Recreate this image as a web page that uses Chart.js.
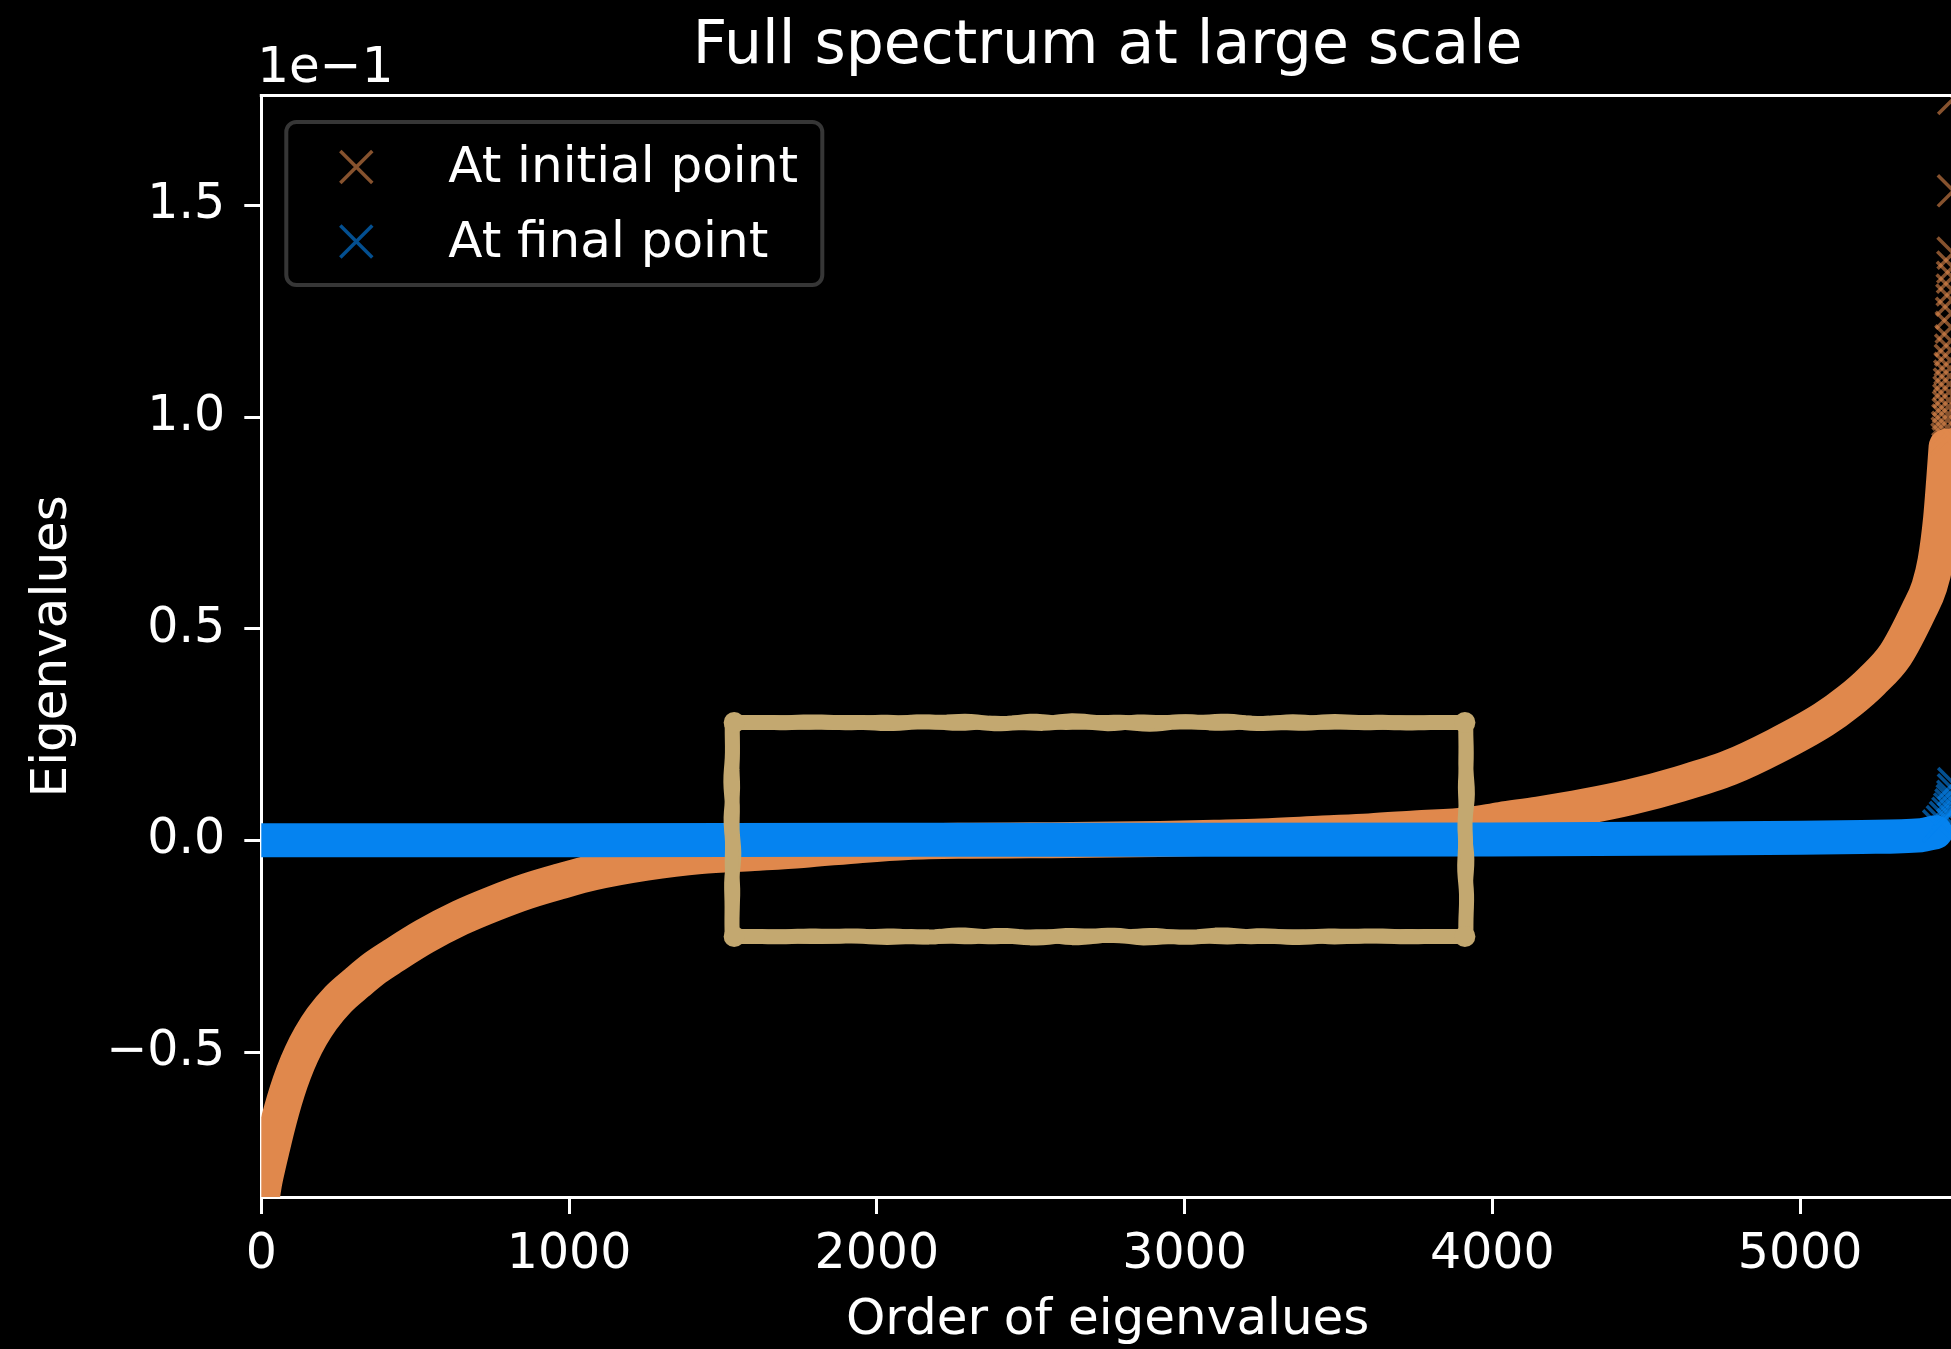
<!DOCTYPE html>
<html>
<head>
<meta charset="utf-8">
<title>Full spectrum at large scale</title>
<script src="https://cdn.jsdelivr.net/npm/chart.js@4.4.1/dist/chart.umd.min.js"></script>
<style>
  html, body { margin: 0; padding: 0; background: #000; overflow: hidden; }
  #wrap { width: 1960px; height: 1349px; }
</style>
</head>
<body>
<div id="wrap"><canvas id="chart" width="1960" height="1349"></canvas></div>
<script>
// Sorted Hessian eigenvalues (in units of 1e-1), indexed by their order.
// Bulk of the spectrum at the initial point.
const initialOrder = [0, 10, 22, 35, 50, 66, 84, 105, 131, 160, 197, 250, 311, 370, 428, 530,
  646, 760, 864, 970, 1078, 1250, 1427, 1600, 1758, 1950, 2100, 2300, 2500, 2700, 2919, 3100,
  3250, 3450, 3600, 3748, 3924, 4027, 4150, 4297, 4450, 4609, 4770, 4920, 5076, 5160, 5232,
  5310, 5387, 5420, 5440, 5458, 5468, 5476];
const initialEig = [-0.85, -0.805, -0.765, -0.725, -0.68, -0.636, -0.592, -0.548, -0.503,
  -0.462, -0.420, -0.374, -0.335, -0.300, -0.272, -0.226, -0.182, -0.147, -0.119, -0.096,
  -0.075, -0.052, -0.036, -0.029, -0.022, -0.010, -0.003, 0.0, 0.001, 0.002, 0.004, 0.007,
  0.010, 0.017, 0.022, 0.029, 0.037, 0.049, 0.062, 0.080, 0.103, 0.134, 0.172, 0.223, 0.286,
  0.33, 0.376, 0.439, 0.545, 0.60, 0.66, 0.76, 0.85, 0.93];
// Largest eigenvalues at the initial point (sparse outliers).
const initialTailOrder = [5477, 5478, 5479, 5480, 5481, 5482, 5483, 5484, 5485, 5486, 5487,
  5488, 5489, 5490, 5491, 5492, 5493, 5494, 5495, 5496, 5497, 5498, 5499];
const initialTailEig = [0.948, 0.962, 0.976, 0.993, 1.007, 1.024, 1.040, 1.059, 1.078, 1.097,
  1.115, 1.134, 1.158, 1.18, 1.212, 1.245, 1.276, 1.300, 1.330, 1.354, 1.387, 1.534, 1.752];

// Bulk of the spectrum at the final point.
const finalOrder = [0, 1000, 2000, 3000, 4000, 4677, 5003, 5200, 5393, 5440];
const finalEig = [0.001, 0.001, 0.002, 0.002, 0.003, 0.005, 0.007, 0.009, 0.013, 0.02];
// Largest eigenvalues at the final point.
const finalTailOrder = [5450, 5462, 5472, 5480, 5486, 5490, 5494, 5496, 5498, 5499];
const finalTailEig = [0.035, 0.045, 0.055, 0.065, 0.075, 0.085, 0.095, 0.105, 0.12, 0.135];

const seriesNames = ['At initial point', 'At final point'];
const xTicks = [0, 1000, 2000, 3000, 4000, 5000];
const yTicks = [-0.5, 0.0, 0.5, 1.0, 1.5];
const xRange = [0, 5500];
const yRange = [-0.841, 1.759];
const offsetLabel = '1e\u22121';

// Region of the flat part of the spectrum picked out by the hand-drawn box.
const highlightOrder = [1530, 3914];
const highlightEig = [-0.226, 0.279];

const FONT = 'DejaVu Sans';
const ORANGE = '224,136,76';
const BLUE = '5,131,240';
const TAN = '#c3a870';
const MARKER_ALPHA = 0.6;

Chart.defaults.font.family = FONT;
Chart.defaults.color = '#ffffff';

const toPoints = (xs, ys) => xs.map((x, i) => ({ x: x, y: ys[i] }));
const fmt = v => {
  const s = Number(v).toFixed(1);
  return s.startsWith('-') ? '\u2212' + s.slice(1) : s;
};

function strokeWobbly(ctx, x0, y0, x1, y1, phase, width) {
  const corners = [[x0, y0], [x1, y0], [x1, y1], [x0, y1]];
  ctx.beginPath();
  let first = true;
  for (let s = 0; s < 4; s++) {
    const a = corners[s], b = corners[(s + 1) % 4];
    const len = Math.hypot(b[0] - a[0], b[1] - a[1]);
    const n = Math.ceil(len / 6);
    const nx = -(b[1] - a[1]) / len, ny = (b[0] - a[0]) / len;
    for (let i = 0; i <= n; i++) {
      const t = i / n, u = t * len;
      const env = Math.sin(Math.PI * t);
      const d = env * (1.1 * Math.sin(u / 21 + phase + s) + 0.7 * Math.sin(u / 8.3 + 2.1 * phase + s));
      const px = a[0] + (b[0] - a[0]) * t + nx * d;
      const py = a[1] + (b[1] - a[1]) * t + ny * d;
      if (first) { ctx.moveTo(px, py); first = false; } else { ctx.lineTo(px, py); }
    }
  }
  ctx.closePath();
  ctx.lineWidth = width;
  ctx.lineJoin = 'round';
  ctx.stroke();
}

const decorations = {
  id: 'decorations',
  afterDatasetsDraw(chart) {
    const { ctx, scales: { x, y } } = chart;
    const x0 = x.getPixelForValue(highlightOrder[0]);
    const x1 = x.getPixelForValue(highlightOrder[1]);
    const y0 = y.getPixelForValue(highlightEig[1]);
    const y1 = y.getPixelForValue(highlightEig[0]);
    ctx.save();
    ctx.strokeStyle = TAN;
    ctx.fillStyle = TAN;
    strokeWobbly(ctx, x0, y0, x1, y1, 0.7, 15);
    strokeWobbly(ctx, x0, y0, x1, y1, 2.9, 14);
    [[x0 + 2, y0], [x1 - 1, y0], [x1 - 1, y1], [x0 + 2, y1]].forEach(([cx, cy]) => {
      ctx.beginPath();
      ctx.arc(cx, cy, 10.5, 0, Math.PI * 2);
      ctx.fill();
    });
    ctx.restore();
  },
  afterDraw(chart) {
    const { ctx, chartArea: ca } = chart;
    ctx.save();
    // top and right spines
    ctx.strokeStyle = '#ffffff';
    ctx.lineWidth = 3;
    ctx.beginPath();
    ctx.moveTo(ca.left - 1.5, ca.top);
    ctx.lineTo(ca.right, ca.top);
    ctx.lineTo(ca.right, ca.bottom);
    ctx.stroke();

    // axis offset label
    ctx.fillStyle = '#ffffff';
    ctx.font = '50px "' + FONT + '"';
    ctx.textAlign = 'left';
    ctx.textBaseline = 'alphabetic';
    ctx.fillText(offsetLabel, ca.left - 4, ca.top - 13.5);

    // legend frame
    const lx0 = ca.left + 25, ly0 = ca.top + 26.5, lx1 = ca.left + 561, ly1 = ca.top + 189.5, r = 10;
    ctx.beginPath();
    ctx.moveTo(lx0 + r, ly0);
    ctx.arcTo(lx1, ly0, lx1, ly1, r);
    ctx.arcTo(lx1, ly1, lx0, ly1, r);
    ctx.arcTo(lx0, ly1, lx0, ly0, r);
    ctx.arcTo(lx0, ly0, lx1, ly0, r);
    ctx.closePath();
    ctx.fillStyle = '#000000';
    ctx.fill();
    ctx.strokeStyle = '#363636';
    ctx.lineWidth = 4;
    ctx.stroke();

    // legend entries
    const entries = [
      { text: seriesNames[0], color: ORANGE, my: ca.top + 71.5, ty: ca.top + 86 },
      { text: seriesNames[1], color: BLUE, my: ca.top + 146, ty: ca.top + 161 }
    ];
    entries.forEach(e => {
      ctx.strokeStyle = 'rgba(' + e.color + ',' + MARKER_ALPHA + ')';
      ctx.fillStyle = 'rgba(0,0,0,0)';
      ctx.lineWidth = 3.5;
      Chart.helpers.drawPoint(ctx, { pointStyle: 'crossRot', rotation: 0, radius: 22.6, borderWidth: 3.5 },
        ca.left + 95, e.my);
      ctx.fillStyle = '#ffffff';
      ctx.font = '50px "' + FONT + '"';
      ctx.textAlign = 'left';
      ctx.textBaseline = 'alphabetic';
      ctx.fillText(e.text, ca.left + 187, e.ty);
    });
    ctx.restore();
  }
};

const bandStyle = (rgb, width, ord) => ({
  showLine: true,
  borderColor: 'rgb(' + rgb + ')',
  backgroundColor: 'rgb(' + rgb + ')',
  borderWidth: width,
  pointRadius: 0,
  pointHoverRadius: 0,
  cubicInterpolationMode: 'monotone',
  borderCapStyle: 'round',
  borderJoinStyle: 'round',
  order: ord,
  clip: 0
});
const tailStyle = (rgb, ord) => ({
  showLine: false,
  pointStyle: 'crossRot',
  pointRadius: 22,
  pointHoverRadius: 22,
  pointBorderWidth: 3.5,
  pointBorderColor: 'rgba(' + rgb + ',' + MARKER_ALPHA + ')',
  pointBackgroundColor: 'rgba(0,0,0,0)',
  order: ord,
  clip: 0
});

new Chart(document.getElementById('chart'), {
  type: 'scatter',
  data: {
    datasets: [
      Object.assign({ label: seriesNames[1], data: toPoints(finalTailOrder, finalTailEig) }, tailStyle(BLUE, 0)),
      Object.assign({ label: seriesNames[1], data: toPoints(finalOrder, finalEig) }, bandStyle(BLUE, 34, 1)),
      Object.assign({ label: seriesNames[0], data: toPoints(initialTailOrder, initialTailEig) }, tailStyle(ORANGE, 2)),
      Object.assign({ label: seriesNames[0], data: toPoints(initialOrder, initialEig) }, bandStyle(ORANGE, 36, 3))
    ]
  },
  options: {
    responsive: false,
    animation: false,
    devicePixelRatio: 1,
    events: [],
    layout: { autoPadding: false, padding: { left: 0, right: 6, top: 0, bottom: 0 } },
    plugins: {
      legend: { display: false },
      tooltip: { enabled: false },
      title: {
        display: true,
        text: 'Full spectrum at large scale',
        color: '#ffffff',
        fullSize: false,
        font: { family: FONT, size: 60, weight: 'normal', lineHeight: 1.2 },
        padding: { top: 11, bottom: 12.5 }
      }
    },
    scales: {
      x: {
        type: 'linear',
        min: xRange[0],
        max: xRange[1],
        afterBuildTicks: s => { s.ticks = xTicks.map(v => ({ value: v })); },
        afterFit: s => { s.height = 152; },
        grid: { display: true, drawOnChartArea: false, drawTicks: true, tickLength: 17, tickWidth: 3, tickColor: '#ffffff', color: '#ffffff' },
        border: { display: true, color: '#ffffff', width: 3 },
        ticks: { color: '#ffffff', font: { family: FONT, size: 49 }, padding: 12, maxRotation: 0, autoSkip: false, callback: v => String(v) },
        title: { display: true, text: 'Order of eigenvalues', color: '#ffffff', font: { family: FONT, size: 50, lineHeight: 1 }, padding: { top: 0, bottom: 3 } }
      },
      y: {
        type: 'linear',
        min: yRange[0],
        max: yRange[1],
        afterBuildTicks: s => { s.ticks = yTicks.map(v => ({ value: v })); },
        afterFit: s => { s.width = 261.3; },
        grid: { display: true, drawOnChartArea: false, drawTicks: true, tickLength: 17, tickWidth: 3, tickColor: '#ffffff', color: '#ffffff' },
        border: { display: true, color: '#ffffff', width: 3 },
        ticks: { color: '#ffffff', font: { family: FONT, size: 49 }, padding: 19, autoSkip: false, callback: v => fmt(v) },
        title: { display: true, text: 'Eigenvalues', color: '#ffffff', font: { family: FONT, size: 50, lineHeight: 1 }, padding: { top: 28, bottom: 0 } }
      }
    }
  },
  plugins: [decorations]
});
</script>
</body>
</html>
